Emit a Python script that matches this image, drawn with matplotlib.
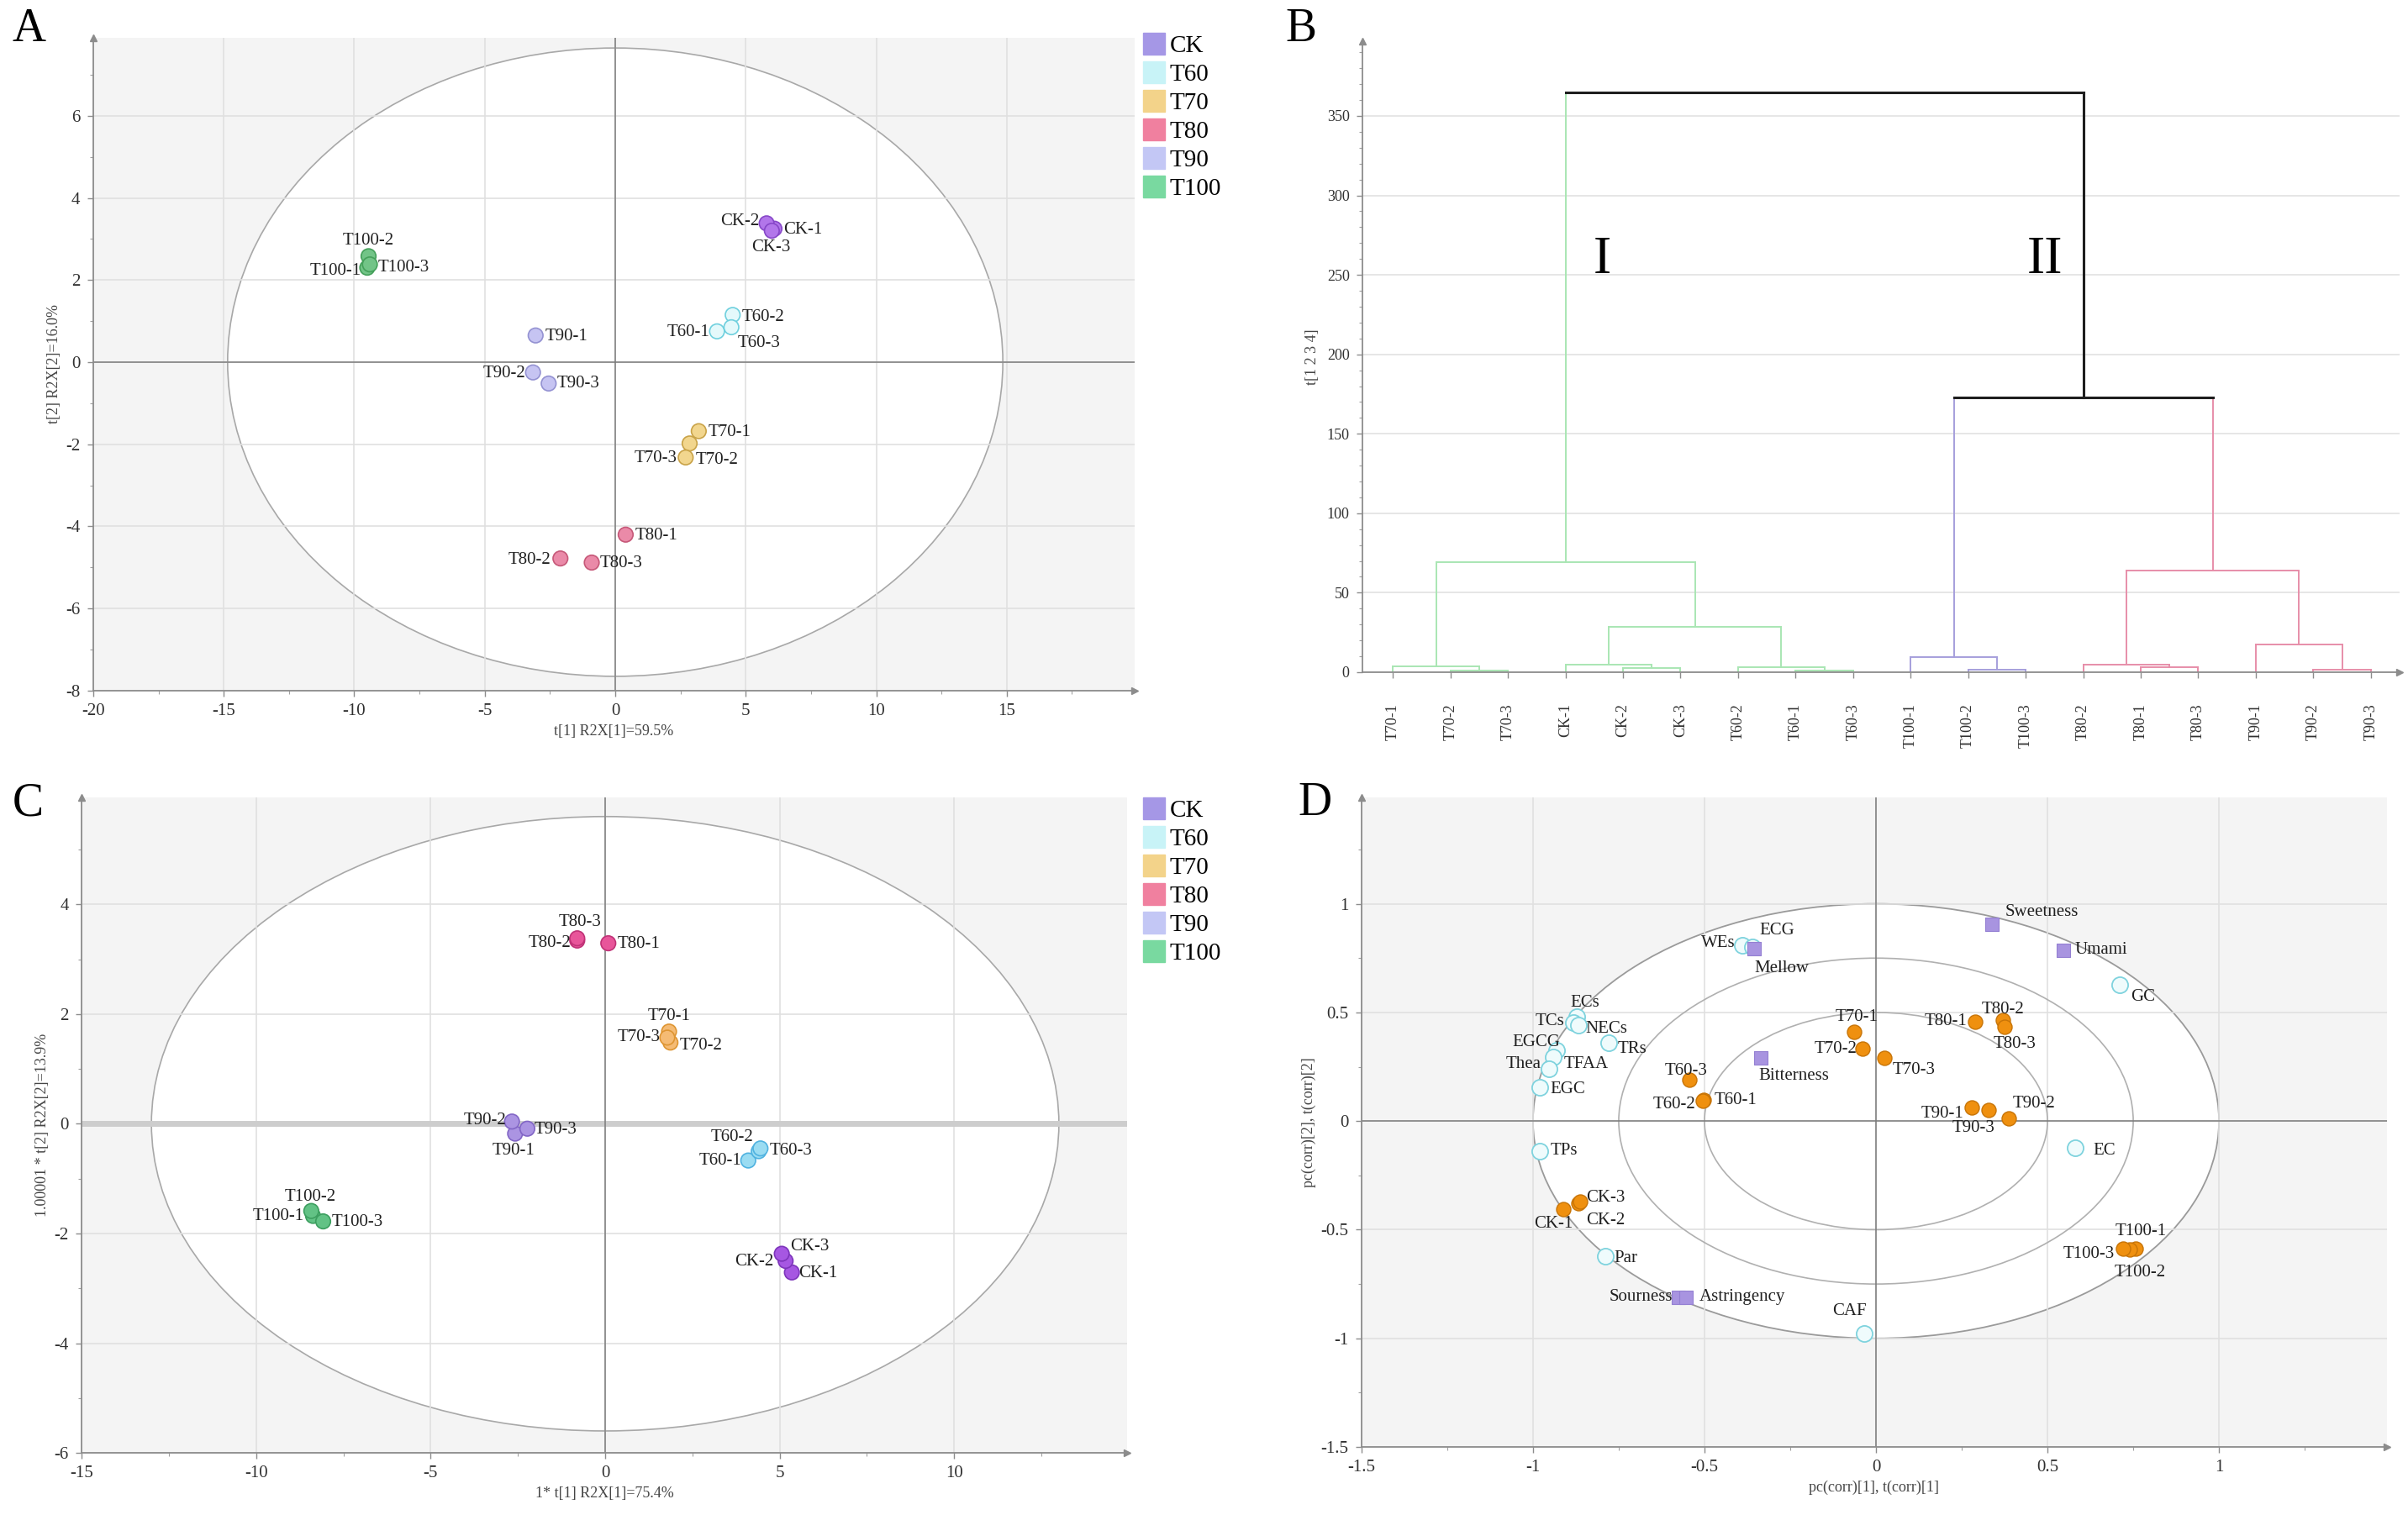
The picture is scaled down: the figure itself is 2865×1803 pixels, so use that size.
import matplotlib
matplotlib.use('Agg')
import matplotlib.pyplot as plt
from matplotlib.patches import Ellipse
from matplotlib.lines import Line2D
from matplotlib.ticker import MultipleLocator, FuncFormatter

plt.rcParams['font.family'] = ['Liberation Serif', 'DejaVu Serif']

# ---------------- data ----------------
groups = ['CK', 'T60', 'T70', 'T80', 'T90', 'T100']
samples = ['CK-1', 'CK-2', 'CK-3', 'T60-1', 'T60-2', 'T60-3', 'T70-1', 'T70-2', 'T70-3',
           'T80-1', 'T80-2', 'T80-3', 'T90-1', 'T90-2', 'T90-3', 'T100-1', 'T100-2', 'T100-3']

# A: PCA scores
a_t1 = [6.1, 5.8, 6.0, 3.9, 4.5, 4.45, 3.2, 2.85, 2.7, 0.4, -2.1, -0.9,
        -3.05, -3.15, -2.55, -9.5, -9.45, -9.4]
a_t2 = [3.25, 3.38, 3.2, 0.75, 1.15, 0.85, -1.68, -1.98, -2.32, -4.2, -4.78, -4.88,
        0.65, -0.25, -0.52, 2.3, 2.58, 2.38]

# C: second score plot
c_t1 = [5.35, 5.17, 5.06, 4.1, 4.4, 4.45, 1.83, 1.87, 1.78, 0.09, -0.8, -0.8,
        -2.58, -2.67, -2.23, -8.37, -8.42, -8.08]
c_t2 = [-2.71, -2.5, -2.37, -0.67, -0.5, -0.45, 1.68, 1.48, 1.57, 3.29, 3.34, 3.38,
        -0.18, 0.04, -0.09, -1.68, -1.59, -1.78]

# B: dendrogram
leaves = ['T70-1', 'T70-2', 'T70-3', 'CK-1', 'CK-2', 'CK-3', 'T60-2', 'T60-1', 'T60-3',
          'T100-1', 'T100-2', 'T100-3', 'T80-2', 'T80-1', 'T80-3', 'T90-1', 'T90-2', 'T90-3']
# (left, right, height, cluster)
merges = [
    ('T70-2', 'T70-3', 1.0, 'I'),
    ('T70-1', 'm0', 3.5, 'I'),
    ('CK-2', 'CK-3', 2.5, 'I'),
    ('CK-1', 'm2', 4.8, 'I'),
    ('T60-1', 'T60-3', 1.0, 'I'),
    ('T60-2', 'm4', 3.0, 'I'),
    ('m3', 'm5', 28.7, 'I'),
    ('m1', 'm6', 69.0, 'I'),
    ('T100-2', 'T100-3', 1.4, 'IIa'),
    ('T100-1', 'm8', 9.7, 'IIa'),
    ('T80-1', 'T80-3', 3.3, 'IIb'),
    ('T80-2', 'm10', 4.5, 'IIb'),
    ('T90-2', 'T90-3', 1.4, 'IIb'),
    ('T90-1', 'm12', 17.3, 'IIb'),
    ('m11', 'm13', 64.0, 'IIb'),
    ('m9', 'm14', 172.7, 'top'),
    ('m7', 'm15', 365.0, 'top'),
]

# D: biplot
d_x = [-0.912, -0.868, -0.863, -0.502, -0.506, -0.543, -0.064, -0.039, 0.024,
       0.29, 0.37, 0.376, 0.28, 0.388, 0.328, 0.756, 0.74, 0.72]
d_y = [-0.405, -0.378, -0.369, 0.096, 0.094, 0.192, 0.412, 0.332, 0.29,
       0.459, 0.465, 0.435, 0.062, 0.014, 0.052, -0.588, -0.59, -0.586]
chem_names = ['WEs', 'ECG', 'ECs', 'TCs', 'NECs', 'TRs', 'EGCG', 'TFAA', 'Thea', 'EGC',
              'TPs', 'Par', 'CAF', 'EC', 'GC']
chem_x = [-0.389, -0.36, -0.872, -0.882, -0.868, -0.78, -0.931, -0.94, -0.953, -0.98,
          -0.98, -0.79, -0.034, 0.581, 0.711]
chem_y = [0.808, 0.80, 0.48, 0.455, 0.44, 0.36, 0.325, 0.293, 0.241, 0.157,
          -0.14, -0.62, -0.977, -0.122, 0.626]
taste_names = ['Sweetness', 'Umami', 'Mellow', 'Bitterness', 'Sourness', 'Astringency']
taste_x = [0.338, 0.546, -0.355, -0.335, -0.575, -0.555]
taste_y = [0.907, 0.786, 0.795, 0.29, -0.81, -0.81]

# ---------------- styles ----------------
legend_cols = {'CK': '#a597e6', 'T60': '#c8f3f7', 'T70': '#f3d38a',
               'T80': '#f0809f', 'T90': '#c3c7f5', 'T100': '#79d9a0'}
a_fill = {'CK': '#b276ea', 'T60': '#e4f9fb', 'T70': '#f2d68e', 'T80': '#ea8aa8',
          'T90': '#c6c4f2', 'T100': '#72c487'}
a_edge = {'CK': '#8748c8', 'T60': '#6fd0de', 'T70': '#c9a348', 'T80': '#c65878',
          'T90': '#9492d2', 'T100': '#44a05a'}
c_fill = {'CK': '#a657e2', 'T60': '#9adcf2', 'T70': '#f5bb74', 'T80': '#e8559a',
          'T90': '#ab94e2', 'T100': '#62c285'}
c_edge = {'CK': '#7d35bb', 'T60': '#4fb2e0', 'T70': '#de9532', 'T80': '#c03277',
          'T90': '#8266c6', 'T100': '#3c9e5f'}
dend_cols = {'I': '#a9e6b3', 'IIa': '#a69fdc', 'IIb': '#e78ea9', 'top': '#1e1e1e'}

a_off = {'CK-1': (8, -1, 'left'), 'CK-2': (-6, 2, 'right'), 'CK-3': (-1, -14, 'center'),
         'T60-1': (-6, -1, 'right'), 'T60-2': (8, -2, 'left'), 'T60-3': (5, -14, 'left'),
         'T70-1': (8, -1, 'left'), 'T70-2': (5, -14, 'left'), 'T70-3': (-7, -1, 'right'),
         'T80-1': (8, -1, 'left'), 'T80-2': (-8, -1, 'right'), 'T80-3': (7, -1, 'left'),
         'T90-1': (8, -1, 'left'), 'T90-2': (-6, -1, 'right'), 'T90-3': (7, 0, 'left'),
         'T100-1': (-5, -3, 'right'), 'T100-2': (0, 13, 'center'), 'T100-3': (7, -3, 'left')}
c_off = {'CK-1': (6, -1, 'left'), 'CK-2': (-10, -1, 'right'), 'CK-3': (7, 6, 'left'),
         'T60-1': (-6, 0, 'right'), 'T60-2': (-23, 12, 'center'), 'T60-3': (8, -2, 'left'),
         'T70-1': (0, 13, 'center'), 'T70-2': (8, -3, 'left'), 'T70-3': (-6, 0, 'right'),
         'T80-1': (8, -1, 'left'), 'T80-2': (-5, -2, 'right'), 'T80-3': (2, 14, 'center'),
         'T90-1': (-1, -15, 'center'), 'T90-2': (-5, 1, 'right'), 'T90-3': (6, -1, 'left'),
         'T100-1': (-8, 0, 'right'), 'T100-2': (-1, 12, 'center'), 'T100-3': (7, -1, 'left')}
d_off = {'CK-1': (-8, -13, 'center'), 'CK-2': (7, -15, 'left'), 'CK-3': (5, 3, 'left'),
         'T60-1': (9, 0, 'left'), 'T60-2': (-6, -3, 'right'), 'T60-3': (-3, 7, 'center'),
         'T70-1': (2, 12, 'center'), 'T70-2': (-5, 0, 'right'), 'T70-3': (7, -10, 'left'),
         'T80-1': (-7, 0, 'right'), 'T80-2': (0, 9, 'center'), 'T80-3': (8, -15, 'center'),
         'T90-1': (-7, -5, 'right'), 'T90-2': (3, 12, 'left'), 'T90-3': (-13, -16, 'center'),
         'T100-1': (5, 15, 'center'), 'T100-2': (9, -20, 'center'), 'T100-3': (-7, -5, 'right')}
chem_off = {'WEs': (-6, 2, 'right'), 'ECG': (6, 14, 'left'), 'ECs': (7, 12, 'center'),
            'TCs': (-8, 1, 'right'), 'NECs': (6, -3, 'left'), 'TRs': (8, -5, 'left'),
            'EGCG': (3, 7, 'right'), 'TFAA': (9, -6, 'left'), 'Thea': (-7, 4, 'right'),
            'EGC': (9, -2, 'left'), 'TPs': (9, 1, 'left'), 'Par': (8, -2, 'left'),
            'CAF': (-13, 19, 'center'), 'EC': (15, -3, 'left'), 'GC': (9, -10, 'left')}
taste_off = {'Sweetness': (11, 10, 'left'), 'Umami': (10, 0, 'left'),
             'Mellow': (0, -17, 'left'), 'Bitterness': (-2, -15, 'left'),
             'Sourness': (-5, 0, 'right'), 'Astringency': (12, 0, 'left')}

fig = plt.figure(figsize=(28.65, 18.03), dpi=100)

gfmt = FuncFormatter(lambda v, p: '%g' % v)


def simca_axes(ax, xlim, ylim, xmaj, xmin, ymaj, ymin, bg='#f4f4f4'):
    ax.set_facecolor(bg)
    ax.set_xlim(*xlim)
    ax.set_ylim(*ylim)
    ax.xaxis.set_major_locator(MultipleLocator(xmaj))
    ax.xaxis.set_minor_locator(MultipleLocator(xmin))
    ax.yaxis.set_major_locator(MultipleLocator(ymaj))
    ax.yaxis.set_minor_locator(MultipleLocator(ymin))
    ax.xaxis.set_major_formatter(gfmt)
    ax.yaxis.set_major_formatter(gfmt)
    for s in ['top', 'right']:
        ax.spines[s].set_visible(False)
    for s in ['left', 'bottom']:
        ax.spines[s].set_color('#8c8c8c')
        ax.spines[s].set_linewidth(1.3)
    ax.tick_params(which='major', direction='out', length=5, width=1, color='#8c8c8c',
                   labelsize=15, labelcolor='#303030', pad=6)
    ax.tick_params(which='minor', direction='out', length=3, width=0.8, color='#a0a0a0')
    ax.set_axisbelow(True)
    ax.plot(1, 0, '>', transform=ax.transAxes, clip_on=False, color='#8c8c8c', ms=6)
    ax.plot(0, 1, '^', transform=ax.transAxes, clip_on=False, color='#8c8c8c', ms=6)


def add_legend(ax, y_top):
    handles = [Line2D([], [], marker='s', ls='', ms=19, color=legend_cols[g]) for g in groups]
    ax.legend(handles, groups, loc='upper left', bbox_to_anchor=(0.475, y_top),
              bbox_transform=fig.transFigure, frameon=False, fontsize=21,
              handlelength=0.8, handletextpad=0.25, labelspacing=0.26, borderpad=0,
              borderaxespad=0)


def label_points(ax, names, xs, ys, offs, size=15):
    for n, x, y in zip(names, xs, ys):
        dx, dy, ha = offs[n]
        ax.annotate(n, (x, y), xytext=(dx, dy), textcoords='offset points',
                    ha=ha, va='center', fontsize=size, color='#202020', zorder=5)


# ---------------- A ----------------
axA = fig.add_axes([0.0387, 0.5441, 0.4325, 0.431])
simca_axes(axA, (-20, 19.9), (-8, 7.9), 5, 2.5, 2, 1)
axA.grid(True, which='major', color='#e0e0e0', lw=1.2)
axA.add_patch(Ellipse((0, 0), 2 * 14.85, 2 * 7.65, fc='white', ec='#a8a8a8', lw=1.2, zorder=0.3))
axA.axhline(0, color='#7a7a7a', lw=1.1, zorder=1)
axA.axvline(0, color='#7a7a7a', lw=1.1, zorder=1)
grp = [s.split('-')[0] for s in samples]
axA.scatter(a_t1, a_t2, s=160, c=[a_fill[g] for g in grp], edgecolors=[a_edge[g] for g in grp],
            linewidths=1.2, zorder=4)
label_points(axA, samples, a_t1, a_t2, a_off)
axA.set_xlabel('t[1] R2X[1]=59.5%', fontsize=13, color='#454545', labelpad=4)
axA.set_ylabel('t[2] R2X[2]=16.0%', fontsize=13, color='#454545', labelpad=4)
add_legend(axA, 0.977)

# ---------------- B ----------------
axB = fig.add_axes([0.5658, 0.5563, 0.4307, 0.4165])
simca_axes(axB, (-0.53, 17.5), (0, 397), 1, 1, 50, 10, bg='white')
axB.grid(True, axis='y', which='major', color='#e2e2e2', lw=1.2)
axB.set_xticks(range(len(leaves)))
axB.set_xticklabels(leaves, rotation=90, fontsize=13)
axB.tick_params(axis='x', which='minor', length=0)
axB.tick_params(axis='x', which='major', pad=22, labelsize=13)
axB.tick_params(axis='y', labelsize=13)
axB.set_ylabel('t[1 2 3 4]', fontsize=13, color='#454545', labelpad=6)

pos = {n: i for i, n in enumerate(leaves)}
hgt = {n: 0.0 for n in leaves}
col = {}
for k, (l, r, h, cl) in enumerate(merges):
    name = 'm%d' % k
    c = dend_cols[cl]
    lw = 2.2 if cl == 'top' else 1.4
    for child in (l, r):
        cc = col.get(child, c)
        clw = 2.2 if cc == dend_cols['top'] else 1.4
        axB.plot([pos[child], pos[child]], [hgt[child], h], color=cc, lw=clw, zorder=2)
    axB.plot([pos[l], pos[r]], [h, h], color=c, lw=lw, zorder=2)
    pos[name] = (pos[l] + pos[r]) / 2
    hgt[name] = h
    col[name] = c

axB.text(3.64, 259, 'I', fontsize=46, ha='center', va='center')
axB.text(11.33, 259, 'II', fontsize=46, ha='center', va='center')

# ---------------- C ----------------
axC = fig.add_axes([0.0339, 0.041, 0.4341, 0.4327])
simca_axes(axC, (-15, 14.95), (-6, 5.95), 5, 2.5, 2, 1)
axC.grid(True, which='major', color='#e0e0e0', lw=1.2)
axC.add_patch(Ellipse((0, 0), 2 * 13.0, 2 * 5.6, fc='white', ec='#a8a8a8', lw=1.2, zorder=0.3))
axC.axhline(0, color='#cdcdcd', lw=5, zorder=1)
axC.axvline(0, color='#7a7a7a', lw=1.1, zorder=1)
axC.scatter(c_t1, c_t2, s=160, c=[c_fill[g] for g in grp], edgecolors=[c_edge[g] for g in grp],
            linewidths=1.2, zorder=4)
label_points(axC, samples, c_t1, c_t2, c_off)
axC.set_xlabel('1* t[1] R2X[1]=75.4%', fontsize=13, color='#454545', labelpad=4)
axC.set_ylabel('1.00001 * t[2] R2X[2]=13.9%', fontsize=13, color='#454545', labelpad=4)
add_legend(axC, 0.472)

# ---------------- D ----------------
axD = fig.add_axes([0.5654, 0.0449, 0.4259, 0.4288])
simca_axes(axD, (-1.5, 1.49), (-1.5, 1.49), 0.5, 0.25, 0.5, 0.25)
axD.grid(True, which='major', color='#e0e0e0', lw=1.2)
axD.add_patch(Ellipse((0, 0), 2, 2, fc='white', ec='#9a9a9a', lw=1.3, zorder=0.3))
for r in (0.75, 0.5):
    axD.add_patch(Ellipse((0, 0), 2 * r, 2 * r, fc='none', ec='#b0b0b0', lw=1.2, zorder=1))
axD.axhline(0, color='#7a7a7a', lw=1.1, zorder=1)
axD.axvline(0, color='#7a7a7a', lw=1.1, zorder=1)
axD.scatter(chem_x, chem_y, s=190, facecolors='#effbfc', edgecolors='#7fd3de', linewidths=1.3,
            zorder=3)
axD.scatter(taste_x, taste_y, s=120, marker='s', c='#a894e0', edgecolors='#9480d2',
            linewidths=0.8, zorder=3)
axD.scatter(d_x, d_y, s=150, c='#ef900f', edgecolors='#c77407', linewidths=1.0, zorder=4)
label_points(axD, chem_names, chem_x, chem_y, chem_off)
label_points(axD, taste_names, taste_x, taste_y, taste_off)
label_points(axD, samples, d_x, d_y, d_off)
axD.set_xlabel('pc(corr)[1], t(corr)[1]', fontsize=13, color='#454545', labelpad=4)
axD.set_ylabel('pc(corr)[2], t(corr)[2]', fontsize=13, color='#454545', labelpad=4)

# panel letters
for lab, x, y in [('A', 0.005, 0.995), ('B', 0.534, 0.995), ('C', 0.005, 0.484), ('D', 0.539, 0.484)]:
    fig.text(x, y, lab, fontsize=40, ha='left', va='top')

fig.savefig('out.png', dpi=100, facecolor='white')
